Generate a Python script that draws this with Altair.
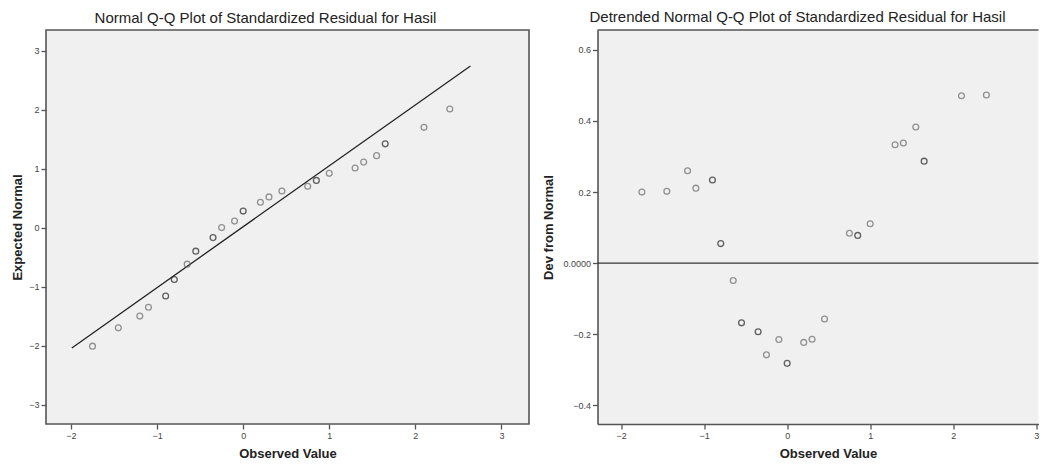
import altair as alt
import pandas as pd

# Data
observed = [-1.75, -1.45, -1.20, -1.10, -0.90, -0.80, -0.65, -0.55, -0.35, -0.25, -0.10, 0.00,
            0.20, 0.30, 0.45, 0.75, 0.85, 1.00, 1.30, 1.40, 1.55, 1.65, 2.10, 2.40]
expected = [-2.01, -1.70, -1.50, -1.35, -1.16, -0.88, -0.62, -0.40, -0.17, 0.00, 0.11, 0.28,
            0.43, 0.52, 0.62, 0.70, 0.80, 0.92, 1.01, 1.11, 1.22, 1.42, 1.70, 2.01]
deviation = [0.200, 0.202, 0.260, 0.211, 0.234, 0.055, -0.049, -0.168, -0.193, -0.258, -0.215, -0.282,
             -0.223, -0.214, -0.157, 0.084, 0.078, 0.111, 0.333, 0.338, 0.383, 0.287, 0.471, 0.473]
cases = [1, 1, 1, 1, 2, 2, 1, 2, 2, 1, 1, 2,
         1, 1, 1, 1, 2, 1, 1, 1, 1, 2, 1, 1]
line_x = [-1.99, 2.64]
line_y = [-2.04, 2.74]

left_ticks = [-2, -1, 0, 1, 2, 3]
left_yticks = [-3, -2, -1, 0, 1, 2, 3]
right_yticks = [-0.4, -0.2, 0.0, 0.2, 0.4, 0.6]

df = pd.DataFrame({"observed": observed, "expected": expected,
                   "deviation": deviation, "cases": cases})
line_df = pd.DataFrame({"x": line_x, "y": line_y})
zero_df = pd.DataFrame({"y": [0.0]})

FONT = "Liberation Sans"
FRAME = "#555555"

pt_color = alt.Color("cases:O", scale=alt.Scale(domain=[1, 2], range=["#6a6a6a", "#222222"]), legend=None)

# ---------- Left panel ----------
LW, H = 483, 394
lx = alt.X("observed:Q", scale=alt.Scale(domain=[-2.29, 3.32], nice=False, zero=False),
           axis=alt.Axis(values=left_ticks, format="d", title="Observed Value",
                         titleY=29, titleBaseline="middle"))
ly = alt.Y("expected:Q", scale=alt.Scale(domain=[-3.33, 3.35], nice=False, zero=False),
           axis=alt.Axis(values=left_yticks, format="d", title="Expected Normal",
                         titleX=-29, titleBaseline="middle", titleAlign="center", titleAngle=-90))

left_pts = alt.Chart(df).mark_point(shape="circle", filled=False, size=34, strokeWidth=1.3).encode(
    x=lx, y=ly, color=pt_color)
left_line = alt.Chart(line_df).mark_line(color="#222222", strokeWidth=1.3).encode(
    x=alt.X("x:Q"), y=alt.Y("y:Q"))

left = alt.layer(left_line, left_pts).properties(
    width=LW, height=H,
    title=alt.TitleParams("Normal Q-Q Plot of Standardized Residual for Hasil", dx=-22),
    view=alt.ViewBackground(fill="#f0f0f0", stroke=FRAME, strokeWidth=1.6),
)

# ---------- Right panel ----------
RW = 441
rx = alt.X("observed:Q", scale=alt.Scale(domain=[-2.285, 3.028], nice=False, zero=False),
           axis=alt.Axis(values=left_ticks, format="d", title="Observed Value",
                         titleY=29, titleX=230.5, titleBaseline="middle",
                         domain=True, domainColor=FRAME, domainWidth=1.6))
ry = alt.Y("deviation:Q", scale=alt.Scale(domain=[-0.4526, 0.656], nice=False, zero=False),
           axis=alt.Axis(values=right_yticks, title="Dev from Normal",
                         labelExpr="datum.value == 0 ? '0.0000' : format(datum.value, '.1f')",
                         titleX=-49, titleBaseline="middle", titleAlign="center", titleAngle=-90,
                         domain=True, domainColor=FRAME, domainWidth=1.6))

right_pts = alt.Chart(df).mark_point(shape="circle", filled=False, size=34, strokeWidth=1.3).encode(
    x=rx, y=ry, color=pt_color)
right_zero = alt.Chart(zero_df).mark_rule(color="#333333", strokeWidth=1.3).encode(y=alt.Y("y:Q"))
right_top = alt.Chart(zero_df).mark_rule(color=FRAME, strokeWidth=1.6).encode(y=alt.value(0))

right = alt.layer(right_top, right_zero, right_pts).properties(
    width=RW, height=H,
    title=alt.TitleParams("Detrended Normal Q-Q Plot of Standardized Residual for Hasil", dx=-20.5),
    view=alt.ViewBackground(fill="#f0f0f0", stroke=None),
)

chart = alt.hconcat(left, right, spacing=12.5).properties(
    padding={"left": 2, "top": 2, "right": 0, "bottom": 0},
    background="white",
).configure_axis(
    labelFont=FONT, labelFontSize=9, labelColor="#444444",
    titleFont=FONT, titleFontSize=13, titleFontWeight="bold", titleColor="#222222",
    tickColor=FRAME, tickSize=5, tickWidth=1.3, grid=False, domain=False, labelPadding=2,
).configure_title(
    font=FONT, fontSize=15, fontWeight="normal", color="#222222", anchor="middle", offset=4,
).configure_view(strokeWidth=1.6)

chart.save("out.html", embed_options={"renderer": "svg", "actions": False})
